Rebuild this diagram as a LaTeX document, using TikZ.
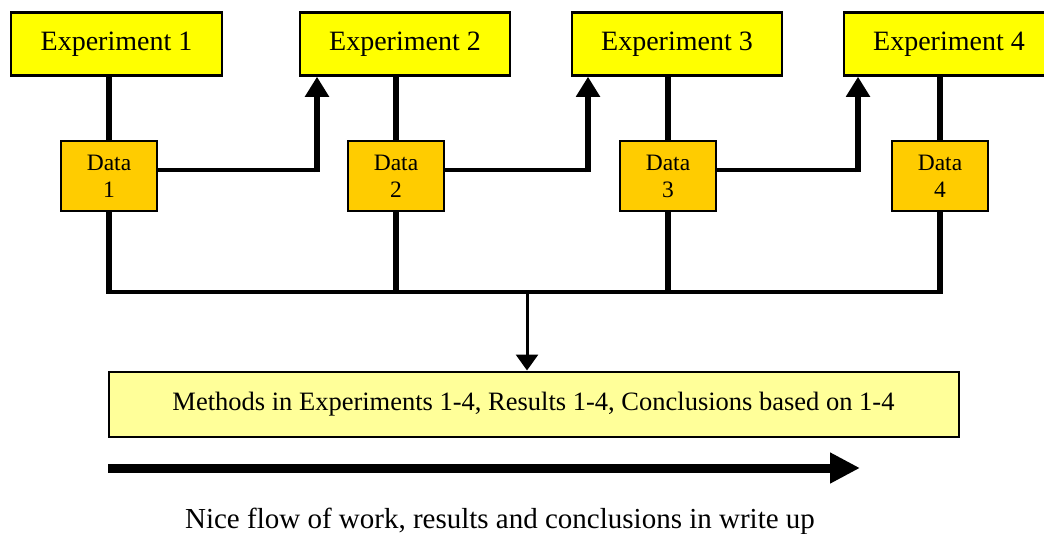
\documentclass[tikz,border=0pt]{standalone}
\usepackage{fontspec}
\setmainfont{Liberation Serif}
\usetikzlibrary{arrows.meta}
\definecolor{expyellow}{RGB}{255,255,0}
\definecolor{dataorange}{RGB}{255,204,0}
\definecolor{paleyellow}{RGB}{255,255,153}
\begin{document}
\begin{tikzpicture}[x=1pt,y=-1pt,
  expbox/.style={draw=black,line width=2.5pt,fill=expyellow,minimum width=210pt,
    minimum height=63pt,inner sep=0pt,font=\fontsize{28}{32}\selectfont},
  databox/.style={draw=black,line width=2.5pt,fill=dataorange,minimum width=96pt,
    minimum height=70pt,inner sep=0pt,align=center,font=\fontsize{23.5}{27}\selectfont},
  sumbox/.style={draw=black,line width=2pt,fill=paleyellow,minimum width=850pt,
    minimum height=65pt,inner sep=0pt,font=\fontsize{26.5}{30}\selectfont},
  stem/.style={line width=5.5pt},
  bus/.style={line width=3.5pt},
  feed/.style={line width=4pt},
  uptip/.style={-{Triangle[width=23pt,length=20pt]}},
]
\useasboundingbox (0,0) rectangle (1044,533);
\clip (0,0) rectangle (1044,533);
\fill[white] (0,0) rectangle (1044,533);

% experiment boxes along the top
\node[expbox,minimum width=211pt] (e1) at (116.5,44) {Experiment 1\hspace{8pt}};
\node[expbox] (e2) at (405,44) {Experiment 2\hspace{8pt}};
\node[expbox] (e3) at (677,44) {Experiment 3\hspace{8pt}};
\node[expbox] (e4) at (949,44) {Experiment 4\hspace{8pt}};

% data boxes
\node[databox] (d1) at (109,176) {Data\\1};
\node[databox] (d2) at (396,176) {Data\\2};
\node[databox] (d3) at (668,176) {Data\\3};
\node[databox] (d4) at (940,176) {Data\\4};

% summary box
\node[sumbox] (m) at (533.5,404) {Methods in Experiments 1-4, Results 1-4, Conclusions based on 1-4};

% experiment -> data stems
\foreach \i in {1,2,3,4}{
  \draw[stem] (e\i.south -| d\i.north) -- (d\i.north);
}

% data feeding the next experiment
\coordinate (c1) at (317,170);
\coordinate (c2) at (588,170);
\coordinate (c3) at (858,170);
\draw[feed] ([yshift=6pt]d1.east) -- (c1);
\draw[stem,uptip] ([yshift=-2pt]c1) -- (c1 |- e2.south);
\draw[feed] ([yshift=6pt]d2.east) -- (c2);
\draw[stem,uptip] ([yshift=-2pt]c2) -- (c2 |- e3.south);
\draw[feed] ([yshift=6pt]d3.east) -- (c3);
\draw[stem,uptip] ([yshift=-2pt]c3) -- (c3 |- e4.south);

% data collected on a common bus
\coordinate (bus) at (0,292);
\foreach \i in {1,2,3,4}{
  \draw[stem] (d\i.south) -- ([yshift=-1.75pt]d\i.south |- bus);
}
\draw[bus] (d1.south |- bus) -- (d4.south |- bus);
\coordinate (tap) at (527,292);
\draw[line width=3pt,-{Triangle[width=22pt,length=16pt]}] (tap) -- (tap |- m.north);

% overall direction of the write up
\coordinate (fs) at (108,468);
\coordinate (fe) at (860,468);
\draw[line width=9pt,-{Triangle[width=29pt,length=30pt]}] (fs) -- (fe);

\node[font=\fontsize{29}{33}\selectfont,anchor=base,inner sep=0pt] (cap) at (500,528)
  {Nice flow of work, results and conclusions in write up};
\end{tikzpicture}
\end{document}
